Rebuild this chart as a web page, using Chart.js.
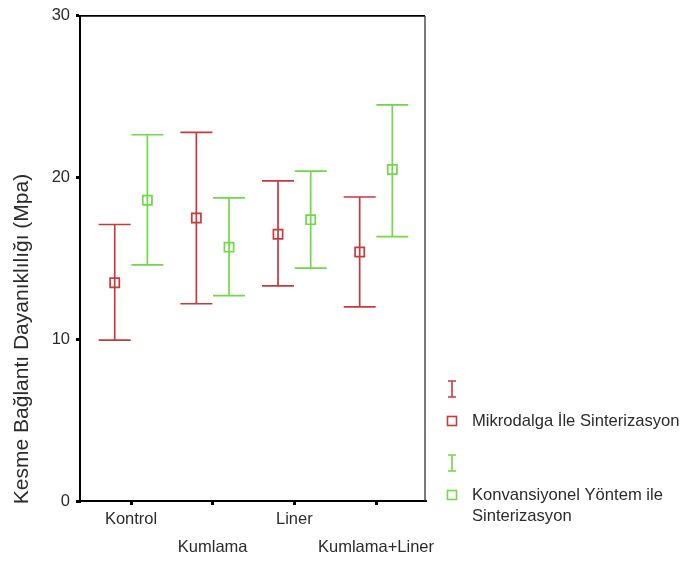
<!DOCTYPE html>
<html>
<head>
<meta charset="utf-8">
<script src="https://cdn.jsdelivr.net/npm/chart.js@4/dist/chart.umd.min.js"></script>
<style>
html,body{margin:0;padding:0;background:#fff;}
canvas{display:block;}
</style>
</head>
<body>
<canvas id="c" width="681" height="561"></canvas>
<script>
const categories = ['Kontrol', 'Kumlama', 'Liner', 'Kumlama+Liner'];
const seriesNames = ['Mikrodalga İle Sinterizasyon', 'Konvansiyonel Yöntem ile Sinterizasyon'];
const mikroMean  = [13.5, 17.5, 16.5, 15.4];
const mikroUpper = [17.1, 22.8, 19.8, 18.8];
const mikroLower = [9.95, 12.2, 13.3, 12.0];
const konvMean  = [18.6, 15.7, 17.4, 20.5];
const konvUpper = [22.65, 18.75, 20.4, 24.5];
const konvLower = [14.6, 12.7, 14.4, 16.35];
const yTicks = [0, 10, 20, 30];
const yTitle = 'Kesme Bağlantı Dayanıklılığı (Mpa)';

const RED = '#c63a3a';
const GREEN = '#70d84a';
const TEXT = '#2b2b2b';
const FONT = 'Liberation Sans, Arial, sans-serif';

const errBars = [
  {upper: mikroUpper, lower: mikroLower, color: RED},
  {upper: konvUpper, lower: konvLower, color: GREEN}
];

const errorBarPlugin = {
  id: 'errorBars',
  beforeDatasetsDraw(chart) {
    const ctx = chart.ctx, xs = chart.scales.x, ys = chart.scales.y;
    chart.data.datasets.forEach((ds, di) => {
      const eb = errBars[di];
      ctx.save();
      ctx.strokeStyle = eb.color;
      ctx.lineWidth = 1.7;
      ds.data.forEach((p, i) => {
        const x = xs.getPixelForValue(p.x);
        const yt = ys.getPixelForValue(eb.upper[i]);
        const yb = ys.getPixelForValue(eb.lower[i]);
        ctx.beginPath();
        ctx.moveTo(x, yt); ctx.lineTo(x, yb);
        ctx.moveTo(x - 16, yt); ctx.lineTo(x + 16, yt);
        ctx.moveTo(x - 16, yb); ctx.lineTo(x + 16, yb);
        ctx.stroke();
      });
      ctx.restore();
    });
  }
};

const framePlugin = {
  id: 'frame',
  afterDraw(chart) {
    const ctx = chart.ctx, a = chart.chartArea;
    ctx.save();
    ctx.strokeStyle = '#000';
    ctx.lineWidth = 1.6;
    ctx.beginPath();
    ctx.moveTo(a.left, a.top); ctx.lineTo(a.right, a.top);
    ctx.stroke();
    ctx.strokeStyle = '#333';
    ctx.lineWidth = 1.3;
    ctx.beginPath();
    ctx.moveTo(a.right, a.top); ctx.lineTo(a.right, a.bottom);
    ctx.stroke();

    ctx.fillStyle = TEXT;
    ctx.font = '21px ' + FONT;
    ctx.textAlign = 'center';
    ctx.textBaseline = 'middle';
    ctx.translate(22, a.bottom - 162);
    ctx.rotate(-Math.PI / 2);
    ctx.fillText(yTitle, 0, 0);
    ctx.restore();

    ctx.save();
    const lx = a.right + 27;
    const rows = [389, 421, 463, 495];
    const cols = [RED, GREEN];
    ctx.lineWidth = 1.6;
    ctx.font = '16.6px ' + FONT;
    ctx.textBaseline = 'middle';
    ctx.textAlign = 'left';
    cols.forEach((c, k) => {
      const yI = rows[k * 2], yS = rows[k * 2 + 1];
      ctx.strokeStyle = c;
      ctx.beginPath();
      ctx.moveTo(lx, yI - 8); ctx.lineTo(lx, yI + 8);
      ctx.moveTo(lx - 4, yI - 8); ctx.lineTo(lx + 4, yI - 8);
      ctx.moveTo(lx - 4, yI + 8); ctx.lineTo(lx + 4, yI + 8);
      ctx.stroke();
      ctx.strokeRect(lx - 4.5, yS - 4.5, 9, 9);
      ctx.fillStyle = TEXT;
      if (k === 0) {
        ctx.fillText(seriesNames[0], lx + 20, yS);
      } else {
        const words = seriesNames[1].split(' ');
        ctx.fillText(words.slice(0, 3).join(' '), lx + 20, yS);
        ctx.fillText(words.slice(3).join(' '), lx + 20, yS + 21);
      }
    });
    ctx.restore();
  }
};

new Chart(document.getElementById('c'), {
  type: 'scatter',
  data: {
    datasets: [
      {
        label: seriesNames[0],
        data: categories.map((c, i) => ({x: i + 1 - 0.2, y: mikroMean[i]})),
        borderColor: RED, backgroundColor: 'rgba(0,0,0,0)',
        pointStyle: 'rect', pointRadius: 6.5, pointBorderWidth: 1.7, pointHoverRadius: 6.5
      },
      {
        label: seriesNames[1],
        data: categories.map((c, i) => ({x: i + 1 + 0.2, y: konvMean[i]})),
        borderColor: GREEN, backgroundColor: 'rgba(0,0,0,0)',
        pointStyle: 'rect', pointRadius: 6.5, pointBorderWidth: 1.7, pointHoverRadius: 6.5
      }
    ]
  },
  options: {
    responsive: false,
    animation: false,
    devicePixelRatio: 1,
    layout: {padding: {top: 15, right: 256, left: 0, bottom: 0}},
    plugins: {legend: {display: false}, tooltip: {enabled: false}},
    scales: {
      x: {
        type: 'linear', min: 0.375, max: 4.6,
        afterBuildTicks(s) { s.ticks = categories.map((c, i) => ({value: i + 1})); },
        afterFit(s) { s.height = 60; },
        grid: {drawOnChartArea: false, drawTicks: true, tickLength: 4, color: '#000', lineWidth: 3},
        border: {display: true, color: '#000', width: 2},
        ticks: {
          padding: 0, autoSkip: false, maxRotation: 0,
          color: TEXT,
          font: {family: FONT, size: 16.5, lineHeight: '28px'},
          callback(v) {
            const i = Math.round(v) - 1;
            return i % 2 === 0 ? categories[i] : ['', categories[i]];
          }
        }
      },
      y: {
        min: 0, max: 30,
        afterBuildTicks(s) { s.ticks = yTicks.map(v => ({value: v})); },
        afterFit(s) { s.width = 80; },
        grid: {drawOnChartArea: false, drawTicks: true, tickLength: 4, color: '#000', lineWidth: 3},
        border: {display: true, color: '#000', width: 2},
        ticks: {padding: 6, color: TEXT, font: {family: FONT, size: 16.5}}
      }
    }
  },
  plugins: [errorBarPlugin, framePlugin]
});
</script>
</body>
</html>
